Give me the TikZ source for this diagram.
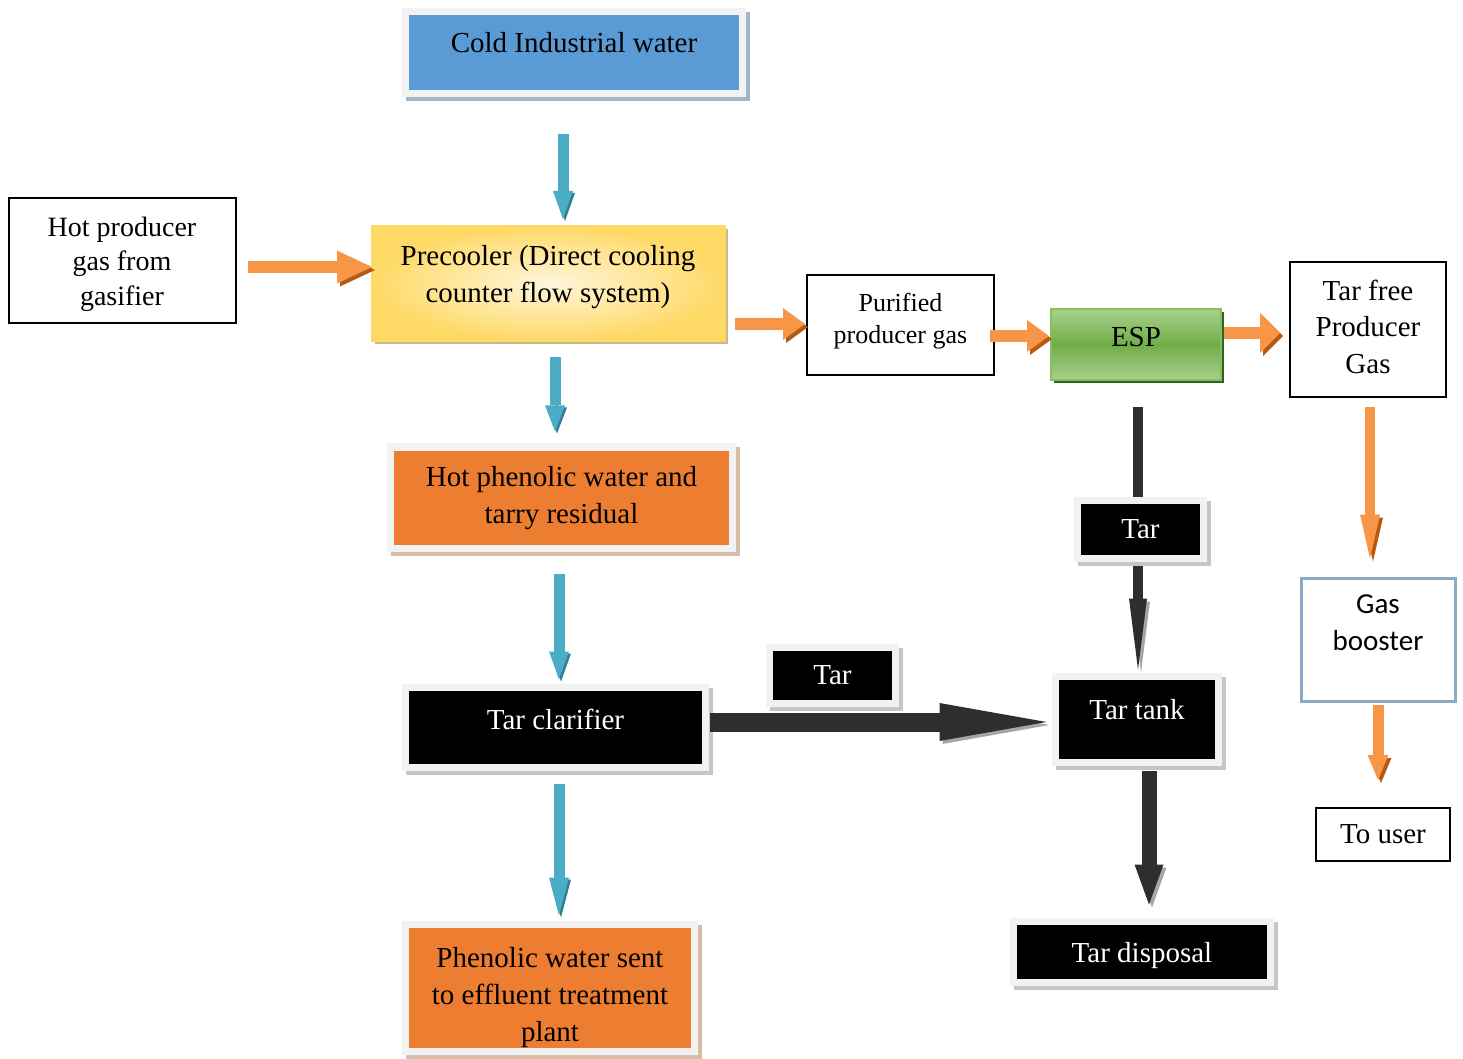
\documentclass[tikz,border=0pt]{standalone}
\usepackage{fontspec}
\setmainfont{Liberation Serif}
\newfontfamily\calibrifont{Carlito}
\usetikzlibrary{arrows.meta,shadows}

\definecolor{coldblue}{HTML}{5B9BD5}
\definecolor{coldshadow}{HTML}{A3B3C8}
\definecolor{phenorange}{HTML}{ED7D31}
\definecolor{orangeshadow}{HTML}{D7BCA6}
\definecolor{framegray}{HTML}{F2F2F2}
\definecolor{preyellow}{HTML}{FFD966}
\definecolor{prelight}{HTML}{FFF6DC}
\definecolor{preshadow}{HTML}{C9B88A}
\definecolor{espgreen}{HTML}{70AD47}
\definecolor{esplight}{HTML}{A9D18E}
\definecolor{espborder}{HTML}{82C060}
\definecolor{espshadow}{HTML}{3B5E25}
\definecolor{boosterblue}{HTML}{8EA9C4}
\definecolor{arrowblue}{HTML}{4BACC6}
\definecolor{arrowblueshadow}{HTML}{2F7F93}
\definecolor{arroworange}{HTML}{F79646}
\definecolor{arroworangeshadow}{HTML}{B65A12}

\tikzset{every picture/.style={line width=0.75pt}}
\tikzset{
  framed/.style={draw=framegray, line width=3.5pt, align=center, inner sep=0pt,
    drop shadow={shadow xshift=1.75pt, shadow yshift=-1.75pt, opacity=1, fill=#1, draw=#1}},
  blackbox/.style={framed=gray!45, fill=black, text=white},
  bluebox/.style={framed=coldshadow, fill=coldblue},
  orangebox/.style={framed=orangeshadow, fill=phenorange},
  plainbox/.style={draw=black, line width=1pt, fill=white, align=center, inner sep=0pt},
  prebox/.style={draw=preyellow, line width=1pt, inner color=prelight, outer color=preyellow,
    align=center, inner sep=0pt,
    drop shadow={shadow xshift=1.5pt, shadow yshift=-1.5pt, opacity=1, fill=preshadow}},
  espbox/.style={draw=espborder, line width=1pt, top color=esplight, bottom color=esplight,
    middle color=espgreen, inner sep=0pt,
    drop shadow={shadow xshift=1.5pt, shadow yshift=-1.5pt, opacity=1, fill=espshadow}},
  boosterbox/.style={draw=boosterblue, line width=1.5pt, fill=white, align=center, inner sep=0pt,
    font=\calibrifont\fontsize{14.5}{18.5}\selectfont,
    drop shadow={shadow xshift=1pt, shadow yshift=-1pt, opacity=1, fill=boosterblue}},
  arrowsize/.style n args={3}{line width=#1, -{Triangle[width=#2, length=#3, line width=0pt]}},
  bluearrow/.style={draw=arrowblue,
    preaction={draw=arrowblueshadow, transform canvas={xshift=1pt, yshift=-1pt}}},
  orangearrow/.style={draw=arroworange,
    preaction={draw=arroworangeshadow, transform canvas={xshift=1.5pt, yshift=-1.5pt}}},
  blackarrow/.style={draw=black!82,
    preaction={draw=gray!70, transform canvas={xshift=1.5pt, yshift=-1.5pt}}}
}

\begin{document}
\begin{tikzpicture}[x=0.5pt,y=0.5pt,yscale=-1,xscale=1, font=\fontsize{14.5}{18.5}\selectfont]
\useasboundingbox (0,0) rectangle (1463,1059);

% Boxes
\draw (574,53) node (cold) [bluebox, minimum width=168.5pt, minimum height=41pt, text height=10pt, text depth=10pt] {Cold Industrial water};
\draw (122,261) node (hot) [plainbox, minimum width=113.5pt, minimum height=62.5pt, font=\fontsize{14}{17.25}\selectfont, text depth=0pt] {Hot producer\\gas from\\gasifier};
\draw (548,284) node (pre) [prebox, minimum width=176.5pt, minimum height=57.5pt, text depth=10.2pt] {Precooler (Direct cooling\\counter flow system)};
\draw (900.5,325) node (pur) [plainbox, minimum width=93.5pt, minimum height=50pt, font=\fontsize{13}{16}\selectfont, text depth=6.8pt] {Purified\\producer gas};
\draw (1136,344.5) node (esp) [espbox, minimum width=85pt, minimum height=35.5pt, text height=10pt, text depth=8pt] {ESP};
\draw (1368,329.5) node (tarfree) [plainbox, minimum width=78pt, minimum height=67.5pt, font=\fontsize{14.5}{18.25}\selectfont, text depth=3pt] {Tar free\\Producer\\Gas};
\draw (561.5,497.75) node (hotphen) [orangebox, minimum width=171pt, minimum height=50.75pt] {Hot phenolic water and\\tarry residual};
\draw (1378,639.5) node (booster) [boosterbox, minimum width=77pt, minimum height=61.5pt, text depth=17pt] {Gas\\booster};
\draw (555.5,727.5) node (clar) [blackbox, minimum width=150pt, minimum height=40pt, text height=10pt, text depth=8pt] {Tar clarifier};
\draw (832.5,675.5) node (tarM) [blackbox, minimum width=63pt, minimum height=28pt] {Tar};
\draw (1137,719.5) node (tank) [blackbox, minimum width=81.5pt, minimum height=43pt, text height=10pt, text depth=10pt] {Tar tank};
\draw (1383,834.5) node (touser) [plainbox, minimum width=67pt, minimum height=26.5pt] {To user};
\draw (550,988) node (phen) [orangebox, minimum width=144.5pt, minimum height=63.5pt, text height=56pt, text depth=3pt] {Phenolic water sent\\to effluent treatment\\plant};
\draw (1142,952) node (disp) [blackbox, minimum width=128.5pt, minimum height=30.5pt, text height=10pt, text depth=0pt] {Tar disposal};

% Blue arrows
\draw [bluearrow, arrowsize={5.5pt}{10pt}{14pt}, shorten <=18.5pt, shorten >=3.25pt] (563,0 |- cold.south) -- (563,0 |- pre.north);
\draw [bluearrow, arrowsize={5.5pt}{10pt}{13pt}, shorten <=7.25pt, shorten >=6pt] (555,0 |- pre.south) -- (555,0 |- hotphen.north);
\draw [bluearrow, arrowsize={5.5pt}{10pt}{14pt}, shorten <=10.75pt, shorten >=2.25pt] (559,0 |- hotphen.south) -- (559,0 |- clar.north);
\draw [bluearrow, arrowsize={5.5pt}{10pt}{19pt}, shorten <=6.25pt, shorten >=2.75pt] (559,0 |- clar.south) -- (559,0 |- phen.north);

% Orange arrows
\draw [orangearrow, arrowsize={6pt}{16.5pt}{17.5pt}, shorten <=5.75pt, shorten >=-0.75pt] (hot.east |- 0,267) -- (pre.west |- 0,267);
\draw [orangearrow, arrowsize={6pt}{16pt}{11pt}, shorten <=4.75pt, shorten >=0.5pt] (pre.east |- 0,324) -- (pur.west |- 0,324);
\draw [orangearrow, arrowsize={6pt}{16pt}{11pt}, shorten <=-2.5pt, shorten >=0.5pt] (pur.east |- 0,336) -- (esp.west |- 0,336);
\draw [orangearrow, arrowsize={6pt}{20pt}{10pt}, shorten <=1pt, shorten >=4.5pt] (esp.east |- 0,333) -- (tarfree.west |- 0,333);
\draw [orangearrow, arrowsize={5pt}{10pt}{22pt}, shorten <=4.5pt, shorten >=9pt] (1370,0 |- tarfree.south) -- (1370,0 |- booster.north);
\draw [orangearrow, arrowsize={5.5pt}{10.5pt}{12.5pt}, shorten <=1pt, shorten >=13.5pt] (booster.south) -- (touser.north -| booster.south);

% Black arrows
\draw [blackarrow, arrowsize={5pt}{9pt}{35.5pt}, shorten <=13pt, shorten >=1.75pt] (1138,0 |- esp.south) -- (1138,0 |- tank.north);
\draw [blackarrow, arrowsize={9.5pt}{19pt}{53.5pt}, shorten <=0.25pt, shorten >=2.75pt] (clar.east |- 0,722) -- (tank.west |- 0,722);
\draw [blackarrow, arrowsize={7.5pt}{14.5pt}{20pt}, shorten <=2.25pt, shorten >=6.75pt] (1149,0 |- tank.south) -- (1149,0 |- disp.north);

% Tar label on the ESP line
\draw (1140.5,529.5) node (tarR) [blackbox, minimum width=63pt, minimum height=29pt] {Tar};

\end{tikzpicture}
\end{document}
